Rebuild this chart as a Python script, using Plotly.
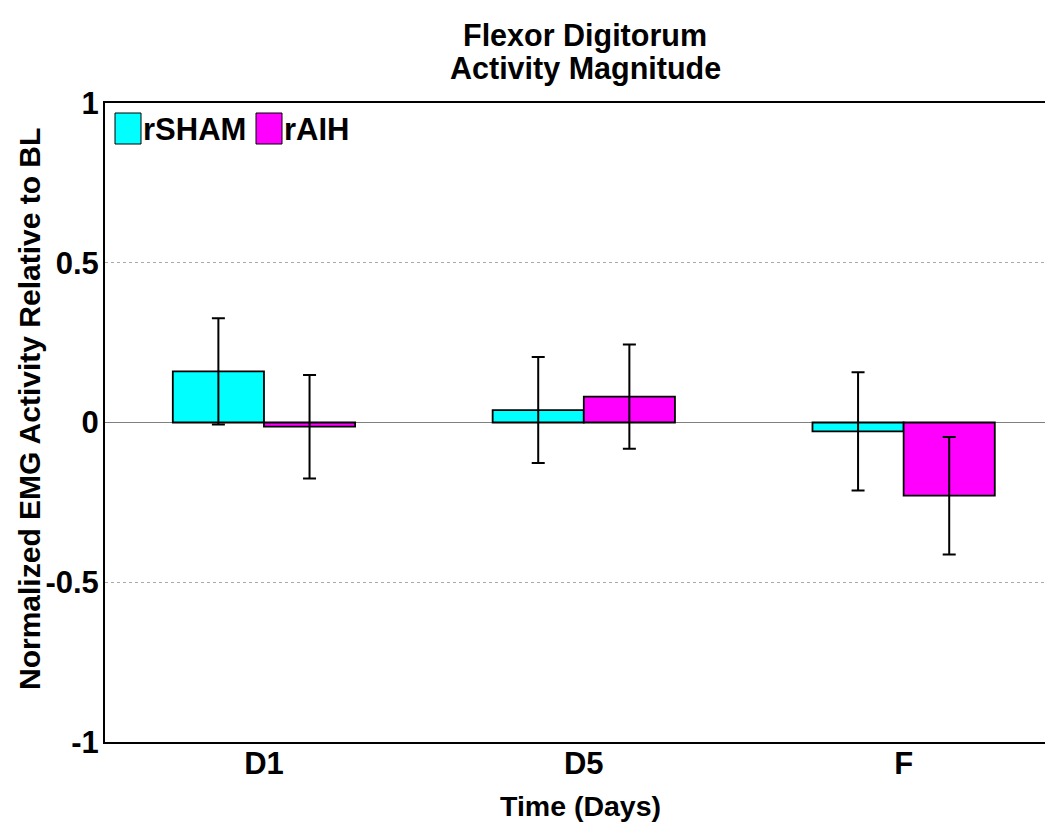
import plotly.graph_objects as go

categories = ["D1", "D5", "F"]
series_names = ["rSHAM", "rAIH"]
sham_values = [0.160, 0.039, -0.028]
sham_errors = [0.166, 0.166, 0.185]
aih_values = [-0.013, 0.081, -0.229]
aih_errors = [0.162, 0.163, 0.184]
series_colors = ["#00FFFF", "#FF00FF"]
y_tick_vals = [-1, -0.5, 0, 0.5, 1]
y_tick_text = ["-1", "-0.5", "0", "0.5", "1"]
title_lines = ["Flexor Digitorum", "Activity Magnitude"]
x_title = "Time (Days)"
y_title = "Normalized EMG Activity Relative to BL"

# page body has an 8px default margin; size the figure so it fits the window
OFF = 8
W, H = 1053 - OFF, 835 - OFF
L, R, T = 105 - OFF, 0, 103 - OFF
B = H - (742 - OFF)
PW = W - L - R
PH = H - T - B
FONT = "Liberation Sans, Arial, Helvetica, sans-serif"


def px_x(sx):
    return (sx - OFF - L) / PW


def px_y(sy):
    return (H - B - (sy - OFF)) / PH


fig = go.Figure()
for name, vals, errs, col in zip(series_names, [sham_values, aih_values],
                                 [sham_errors, aih_errors], series_colors):
    fig.add_trace(go.Bar(
        x=categories, y=vals, name=name,
        marker=dict(color=col, line=dict(color="black", width=1.8)),
        error_y=dict(type="data", array=errs, visible=True,
                     color="black", thickness=2, width=6.5),
        showlegend=False,
    ))

fig.update_layout(
    width=W, height=H,
    margin=dict(l=L, r=R, t=T, b=B, pad=0),
    paper_bgcolor="white", plot_bgcolor="white",
    barmode="group", bargap=0.43, bargroupgap=0,
    font=dict(family=FONT, color="black"),
)
fig.update_xaxes(
    type="category", range=[-0.497, 2.467],
    showline=True, linecolor="black", linewidth=2, mirror=True,
    showgrid=False, ticks="", zeroline=False,
    tickfont=dict(size=31, weight="bold", family=FONT),
    ticklabelstandoff=-7,
)
fig.update_yaxes(
    range=[-1, 1], tickvals=y_tick_vals, ticktext=y_tick_text,
    showline=True, linecolor="black", linewidth=2, mirror=False,
    showgrid=True, gridcolor="#aaaaaa", gridwidth=1, griddash="dot",
    zeroline=True, zerolinecolor="#808080", zerolinewidth=1.3,
    ticks="", tickfont=dict(size=31, weight="bold", family=FONT),
    ticklabelstandoff=-2,
)

annotations = []
for i, line in enumerate(title_lines):
    annotations.append(dict(
        text=line, x=px_x(585), y=px_y(35 + 34 * i), xref="paper", yref="paper",
        xanchor="center", yanchor="middle", showarrow=False,
        font=dict(size=30.5, weight="bold", family=FONT),
    ))
annotations.append(dict(
    text=x_title, x=px_x(580), y=px_y(806), xref="paper", yref="paper",
    xanchor="center", yanchor="middle", showarrow=False,
    font=dict(size=28.5, weight="bold", family=FONT),
))
annotations.append(dict(
    text=y_title, x=px_x(29), y=px_y(409), xref="paper", yref="paper",
    xanchor="center", yanchor="middle", showarrow=False, textangle=-90,
    font=dict(size=30, weight="bold", family=FONT),
))

shapes = []
legend_swatch_x = [115, 256]
for name, col, sx in zip(series_names, series_colors, legend_swatch_x):
    shapes.append(dict(
        type="rect", xref="paper", yref="paper",
        x0=px_x(sx), x1=px_x(sx + 26), y0=px_y(144), y1=px_y(113),
        fillcolor=col, line=dict(color="black", width=1),
    ))
    annotations.append(dict(
        text=name, x=px_x(sx + 26), y=px_y(129), xref="paper", yref="paper",
        xanchor="left", yanchor="middle", showarrow=False,
        font=dict(size=31, weight="bold", family=FONT),
    ))

fig.update_layout(annotations=annotations, shapes=shapes)
fig.write_html("out.html")
